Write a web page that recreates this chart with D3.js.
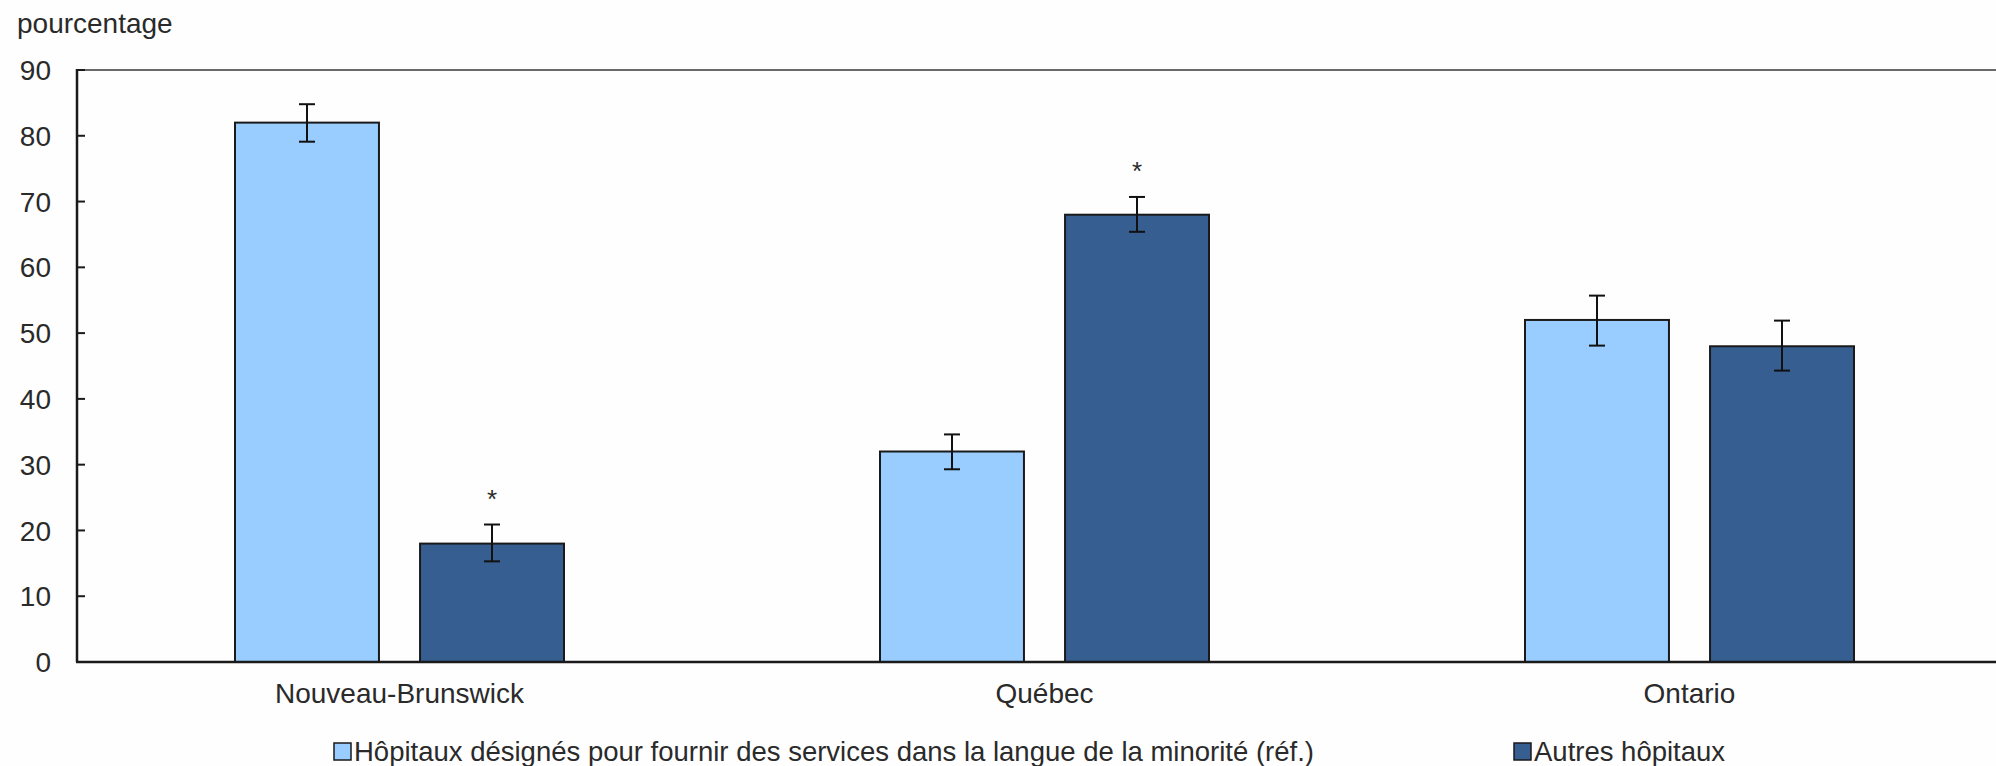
<!DOCTYPE html>
<html>
<head>
<meta charset="utf-8">
<script src="https://cdn.jsdelivr.net/npm/d3@7"></script>
<style>
	body { margin: 0; background: #fefefe; }
	text { font-family: 'Liberation Sans', Arial, sans-serif; fill: #2a2a2a; }
</style>
</head>
<body>
<div class="chart"></div>
<script>
const categories = ['Nouveau-Brunswick', 'Québec', 'Ontario'];
const seriesNames = [
	'Hôpitaux désignés pour fournir des services dans la langue de la minorité (réf.)',
	'Autres hôpitaux'
];
const designatedValues = [82, 32, 52];
const designatedLow = [79.1, 29.3, 48.1];
const designatedHigh = [84.8, 34.6, 55.7];
const otherValues = [18, 68, 48];
const otherLow = [15.3, 65.4, 44.3];
const otherHigh = [20.9, 70.7, 51.9];
const otherSignificant = [true, true, false];
const yTicks = [0, 10, 20, 30, 40, 50, 60, 70, 80, 90];
const yTitle = 'pourcentage';

const colors = ['#99ccff', '#365e91'];

drawChart();

function drawChart() {
	const width = 1996;
	const height = 766;
	const left = 77;
	const top = 70;
	const bottom = 662;

	const svg = d3.select('.chart')
	.append('svg')
	.attr('width', width)
	.attr('height', height);

	const rows = categories.map((c, i) => ({
		category: c,
		bars: [
			{ s: 0, value: designatedValues[i], lo: designatedLow[i], hi: designatedHigh[i], star: false },
			{ s: 1, value: otherValues[i], lo: otherLow[i], hi: otherHigh[i], star: otherSignificant[i] }
		]
	}));

	// plot runs past the right edge of the picture, like the original
	const x0 = d3.scaleBand()
	.domain(categories)
	.range([left, left + 645 * 3]);

	const x1 = d3.scaleBand()
	.domain([0, 1])
	.range([158, 487])
	.paddingInner(0.222);

	const y = d3.scaleLinear()
	.domain([0, 90])
	.range([bottom, top]);

	// y tick labels
	svg.append('g')
	.selectAll('text')
	.data(yTicks)
	.enter().append('text')
	.attr('x', 51)
	.attr('y', d => y(d))
	.attr('dy', '0.36em')
	.attr('text-anchor', 'end')
	.style('font-size', '28px')
	.text(d => d);

	svg.append('text')
	.attr('x', 17)
	.attr('y', 33)
	.style('font-size', '28px')
	.text(yTitle);

	// top frame line
	svg.append('line')
	.attr('x1', left).attr('x2', width)
	.attr('y1', top).attr('y2', top)
	.attr('stroke', '#6a6a6a')
	.attr('stroke-width', 2);

	const groups = svg.selectAll('g.group')
	.data(rows)
	.enter().append('g')
	.attr('class', 'group')
	.attr('transform', d => `translate(${x0(d.category)},0)`);

	groups.selectAll('rect')
	.data(d => d.bars)
	.enter().append('rect')
	.attr('x', d => x1(d.s))
	.attr('y', d => y(d.value))
	.attr('width', x1.bandwidth())
	.attr('height', d => y(0) - y(d.value))
	.attr('fill', d => colors[d.s])
	.attr('stroke', '#1a1a1a')
	.attr('stroke-width', 2);

	const err = groups.selectAll('g.err')
	.data(d => d.bars)
	.enter().append('g')
	.attr('class', 'err')
	.attr('transform', d => `translate(${x1(d.s) + x1.bandwidth() / 2},0)`)
	.attr('stroke', '#111')
	.attr('stroke-width', 2);

	err.append('line')
	.attr('y1', d => y(d.lo))
	.attr('y2', d => y(d.hi));
	err.append('line')
	.attr('x1', -8).attr('x2', 8)
	.attr('y1', d => y(d.lo)).attr('y2', d => y(d.lo));
	err.append('line')
	.attr('x1', -8).attr('x2', 8)
	.attr('y1', d => y(d.hi)).attr('y2', d => y(d.hi));

	groups.selectAll('text.star')
	.data(d => d.bars.filter(b => b.star))
	.enter().append('text')
	.attr('class', 'star')
	.attr('x', d => x1(d.s) + x1.bandwidth() / 2)
	.attr('y', d => y(d.hi) - 17)
	.attr('text-anchor', 'middle')
	.style('font-size', '26px')
	.text('*');

	// axes lines and inner ticks
	svg.append('line')
	.attr('x1', left).attr('x2', left)
	.attr('y1', top - 1).attr('y2', bottom)
	.attr('stroke', '#1a1a1a')
	.attr('stroke-width', 2.5);

	svg.append('g')
	.selectAll('line')
	.data(yTicks.slice(1))
	.enter().append('line')
	.attr('x1', left).attr('x2', left + 8)
	.attr('y1', d => y(d)).attr('y2', d => y(d))
	.attr('stroke', '#1a1a1a')
	.attr('stroke-width', 2);

	svg.append('line')
	.attr('x1', left - 1).attr('x2', width)
	.attr('y1', bottom).attr('y2', bottom)
	.attr('stroke', '#1a1a1a')
	.attr('stroke-width', 2.5);

	// category labels
	svg.append('g')
	.selectAll('text')
	.data(categories)
	.enter().append('text')
	.attr('x', d => x0(d) + x0.bandwidth() / 2)
	.attr('y', 703)
	.attr('text-anchor', 'middle')
	.style('font-size', '28px')
	.text(d => d);

	// legend
	const legendX = [333, 1513];
	const legend = svg.append('g')
	.selectAll('g')
	.data(seriesNames)
	.enter().append('g')
	.attr('transform', (d, i) => `translate(${legendX[i]},0)`);

	legend.append('rect')
	.attr('x', 1).attr('y', 743)
	.attr('width', 17).attr('height', 17)
	.attr('fill', (d, i) => colors[i])
	.attr('stroke', '#1a1a1a')
	.attr('stroke-width', 1.5);

	legend.append('text')
	.attr('x', 21)
	.attr('y', 761)
	.style('font-size', '27.5px')
	.text(d => d);
}
</script>
</body>
</html>
